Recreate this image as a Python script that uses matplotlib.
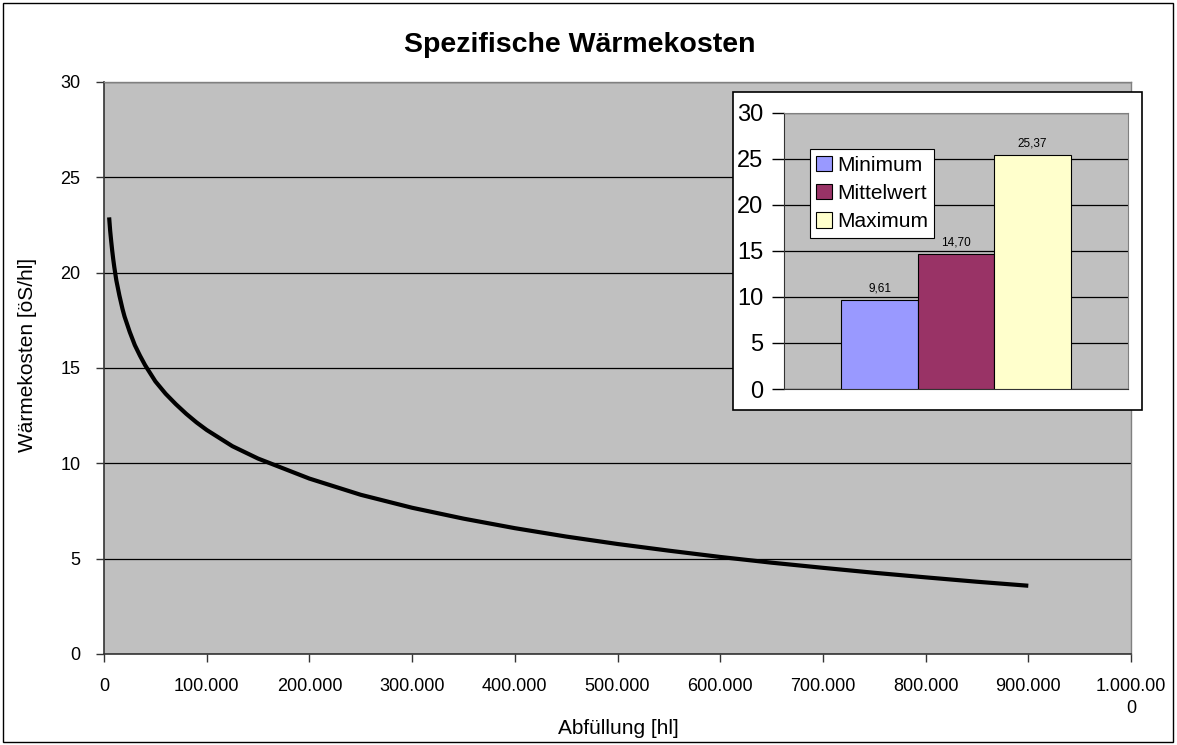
import matplotlib
matplotlib.use("Agg")
import matplotlib.pyplot as plt
from matplotlib.patches import Rectangle, Patch
from matplotlib.ticker import FixedLocator

plt.rcParams['font.family'] = ['Liberation Sans', 'DejaVu Sans']

# Curve data
abfuellung = [5000, 5500, 6000, 7000, 8000, 9000, 10000, 12000, 15000, 18000, 20000,
              25000, 30000, 35000, 40000, 50000, 60000, 70000, 80000, 90000, 100000,
              125000, 150000, 200000, 250000, 300000, 350000, 400000, 450000, 500000,
              550000, 600000, 650000, 700000, 750000, 800000, 850000, 900000]
waermekosten = [22.9, 22.55, 22.2, 21.65, 21.15, 20.7, 20.3, 19.6, 18.8, 18.1, 17.7,
                16.9, 16.2, 15.65, 15.15, 14.3, 13.65, 13.1, 12.6, 12.15, 11.75,
                10.9, 10.25, 9.2, 8.35, 7.67, 7.1, 6.6, 6.16, 5.77,
                5.42, 5.09, 4.79, 4.52, 4.26, 4.02, 3.79, 3.58]

x_ticks = [0, 100000, 200000, 300000, 400000, 500000, 600000, 700000, 800000, 900000, 1000000]
x_tick_labels = ["0", "100.000", "200.000", "300.000", "400.000", "500.000", "600.000",
                 "700.000", "800.000", "900.000", "1.000.00\n0"]
y_ticks = [0, 5, 10, 15, 20, 25, 30]

# Inset bar data
bar_names = ["Minimum", "Mittelwert", "Maximum"]
bar_values = [9.61, 14.70, 25.37]
bar_labels = ["9,61", "14,70", "25,37"]
bar_colors = ["#9999FF", "#993366", "#FFFFCC"]

W, H = 1177, 745
fig = plt.figure(figsize=(W / 100, H / 100), dpi=100)
fig.patch.set_facecolor("white")

def fx(px):
    return px / W

def fy(py):
    return 1 - py / H

# Main axes
ax = fig.add_axes([fx(104), fy(654), fx(1131) - fx(104), fy(82) - fy(654)], zorder=0)
ax.set_facecolor("#C0C0C0")
ax.plot(abfuellung, waermekosten, color="black", lw=3, solid_capstyle="butt", zorder=3)
ax.set_xlim(0, 1000000)
ax.set_ylim(0, 30)
ax.xaxis.set_major_locator(FixedLocator(x_ticks))
ax.set_xticklabels(x_tick_labels, fontsize=13, va="top", linespacing=1.4)
ax.set_yticks(y_ticks)
ax.set_yticklabels([str(v) for v in y_ticks], fontsize=13)
ax.grid(axis="y", color="black", lw=0.9)
ax.set_axisbelow(True)
ax.tick_params(axis="x", direction="out", length=6, width=1, color="#333333", pad=11)
ax.tick_params(axis="y", direction="out", length=6, width=1, color="#333333", pad=11)
for s in ["top", "right"]:
    ax.spines[s].set_color("#808080")
    ax.spines[s].set_linewidth(1)
for s in ["left", "bottom"]:
    ax.spines[s].set_color("#333333")
    ax.spines[s].set_linewidth(1.2)

fig.text(fx(618), fy(729), "Abfüllung [hl]", ha="center", va="center", fontsize=15)
fig.text(fx(28), fy(355), "Wärmekosten [öS/hl]", ha="center", va="center",
         rotation=90, fontsize=15)
fig.text(fx(580), fy(52), "Spezifische Wärmekosten", ha="center", va="baseline",
         fontsize=20.5, fontweight="bold")

# Inset white box
box = Rectangle((fx(733), fy(410)), fx(1142) - fx(733), fy(92) - fy(410),
                transform=fig.transFigure, facecolor="white", edgecolor="black",
                lw=1.2, zorder=1)
fig.patches.append(box)

# Inset axes
iax = fig.add_axes([fx(784), fy(389), fx(1128) - fx(784), fy(112.7) - fy(389)], zorder=2)
iax.set_facecolor("#C0C0C0")
bw = 0.2219
xs = [0.5 - bw, 0.5, 0.5 + bw]
iax.bar(xs, bar_values, width=bw, color=bar_colors, edgecolor="black", lw=0.8, zorder=3)
for xv, v, lab in zip(xs, bar_values, bar_labels):
    iax.text(xv, v + 0.6, lab, ha="center", va="bottom", fontsize=8.5, zorder=4)
iax.set_xlim(0, 1)
iax.set_ylim(0, 30)
iax.set_xticks([])
iax.set_yticks(y_ticks)
iax.set_yticklabels([str(v) for v in y_ticks], fontsize=17)
iax.grid(axis="y", color="black", lw=0.9)
iax.set_axisbelow(True)
iax.tick_params(axis="y", direction="out", length=9, width=1, pad=6)
for s in ["top", "right"]:
    iax.spines[s].set_color("#808080")
for s in ["left", "bottom"]:
    iax.spines[s].set_color("#333333")

handles = [Patch(facecolor=c, edgecolor="black", lw=0.8) for c in bar_colors]
leg = iax.legend(handles, bar_names, loc="upper left",
                 bbox_to_anchor=((810 - 784) / 344, (389 - 149.3) / 276.3),
                 fontsize=15, frameon=True, fancybox=False, edgecolor="black",
                 framealpha=1, facecolor="white",
                 borderpad=0.3, labelspacing=0.45, handlelength=0.75, handleheight=0.75,
                 handletextpad=0.25, borderaxespad=0)
leg.get_frame().set_linewidth(0.8)

# Outer border
border = Rectangle((fx(3), fy(742)), fx(1173) - fx(3), fy(3) - fy(742),
                   transform=fig.transFigure, fill=False, edgecolor="black", lw=1, zorder=10)
fig.patches.append(border)

fig.savefig("out.png", dpi=100)
